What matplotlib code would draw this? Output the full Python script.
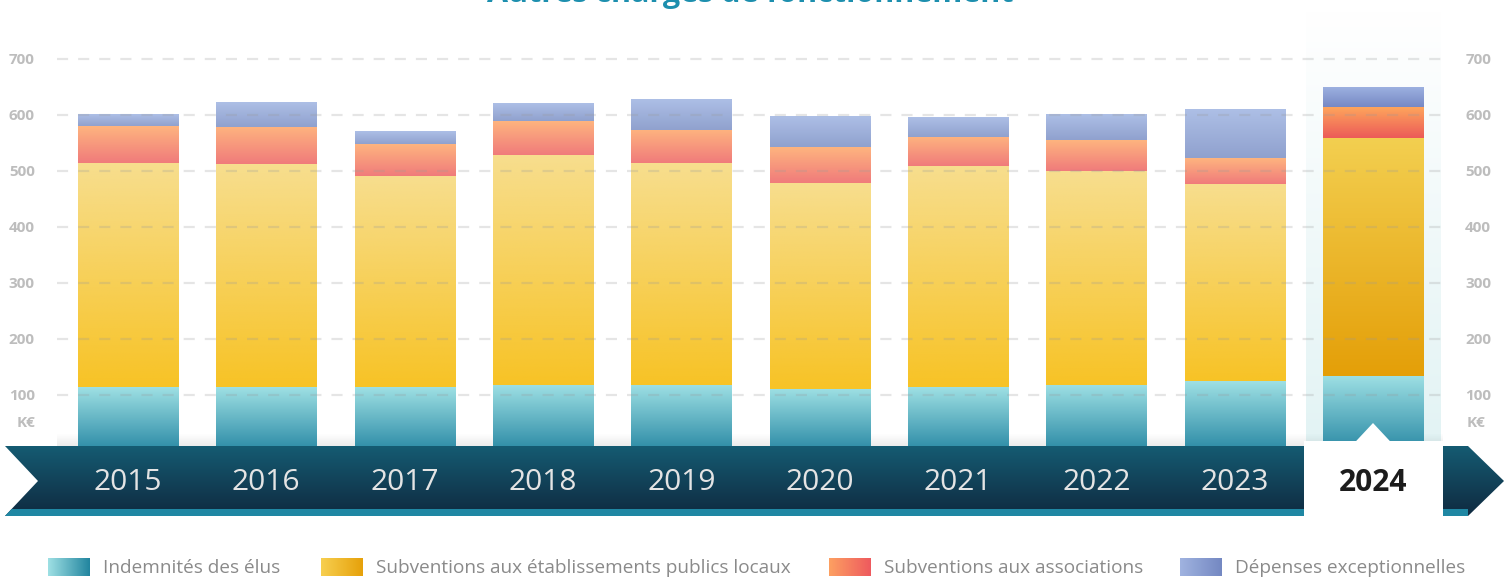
import numpy as np
import matplotlib
matplotlib.use("Agg")
import matplotlib.pyplot as plt
import matplotlib.transforms as mtransforms
from matplotlib.colors import to_rgba
from matplotlib.patches import Polygon, Rectangle

plt.rcParams['font.family'] = ['Open Sans', 'DejaVu Sans']

# data (K€)
years = ['2015', '2016', '2017', '2018', '2019', '2020', '2021', '2022', '2023', '2024']
indemnites = [114, 114, 114, 118, 118, 111, 114, 118, 125, 134]
subv_etab = [400, 398, 377, 411, 396, 368, 395, 382, 352, 425]
subv_assoc = [66, 67, 57, 60, 59, 64, 52, 55, 46, 55]
depenses_exc = [20, 44, 22, 32, 54, 55, 34, 45, 86, 34]
yticks = [100, 200, 300, 400, 500, 600, 700]

labels = ['Indemnités des élus', 'Subventions aux établissements publics locaux',
          'Subventions aux associations', 'Dépenses exceptionnelles']
# (top, bottom) gradient colours for normal years and for the highlighted year
grad_normal = [('#9ee0e4', '#2b8aa5'), ('#f7de8e', '#f7c326'),
               ('#feb47f', '#f07b7b'), ('#adbfe6', '#90a1ce')]
grad_hl = [('#9ee0e4', '#2b8aa5'), ('#f3cf50', '#e49f08'),
           ('#fea55c', '#ec5a58'), ('#9cb0e0', '#7789c4')]
legend_grad = [('#9ee0e4', '#22859f'), ('#f7cf50', '#e6a10a'),
               ('#fda062', '#ee5a5e'), ('#a0b3e0', '#7488c2')]


def vgrad(ax, x0, x1, y0, y1, c_top, c_bot, zorder=2, n=128):
    t = np.linspace(0, 1, n)[:, None]
    a = np.array(to_rgba(c_bot)); b = np.array(to_rgba(c_top))
    img = (a + (b - a) * t)[:, None, :]
    return ax.imshow(img, extent=(x0, x1, y0, y1), origin='lower', aspect='auto',
                     interpolation='bilinear', zorder=zorder)


def hgrad(ax, x0, x1, y0, y1, c_left, c_right, zorder=2, n=128):
    t = np.linspace(0, 1, n)[None, :]
    a = np.array(to_rgba(c_left)); b = np.array(to_rgba(c_right))
    img = (a + (b - a) * t[..., None])
    return ax.imshow(img, extent=(x0, x1, y0, y1), origin='upper', aspect='auto',
                     interpolation='bilinear', zorder=zorder)


W, H = 1510, 581
fig = plt.figure(figsize=(W / 100, H / 100), dpi=100)
ax = fig.add_axes([57 / W, (H - 451) / H, 1386 / W, 441 / H])
x = np.arange(len(years))
bw = 0.723
hl = len(years) - 1

# highlight column for last year
vgrad(ax, hl - 0.485, hl + 0.485, 0, 787.5, '#ffffff', '#e2f3f4', zorder=0.5)
# soft shadow above the banner
sh = np.zeros((64, 1, 4)); sh[:, 0, 3] = np.linspace(0.11, 0, 64)
ax.imshow(sh, extent=(-0.513, 9.506, 0, 32), origin='lower', aspect='auto', zorder=1)

series = [indemnites, subv_etab, subv_assoc, depenses_exc]
for i in range(len(years)):
    bottom = 0
    g = grad_hl if i == hl else grad_normal
    for k, s in enumerate(series):
        top = bottom + s[i]
        vgrad(ax, x[i] - bw / 2, x[i] + bw / 2, bottom, top, g[k][0], g[k][1], zorder=2)
        bottom = top

ax.set_xlim(-0.513, 9.506)
ax.set_ylim(0, 787.5)
ax.set_yticks(yticks)
ax.set_xticks([])
for sp in ax.spines.values():
    sp.set_visible(False)
ax.grid(axis='y', color='#9a9a9a', alpha=0.25, linewidth=1.6, linestyle=(0, (5, 4.5)), zorder=3)
ax.set_axisbelow(False)
ax.tick_params(axis='y', length=0, labelleft=True, labelright=True, labelsize=11,
               labelcolor='#bdbdbd', pad=16)
for lab in ax.get_yticklabels():
    lab.set_fontweight('bold')
ax.patch.set_alpha(0)

# overlay in pixel coordinates for banner / legend / title
ov = fig.add_axes([0, 0, 1, 1], zorder=5)
ov.set_xlim(0, W); ov.set_ylim(H, 0); ov.axis('off'); ov.patch.set_alpha(0)

trans_k_left = mtransforms.blended_transform_factory(ov.transData, ax.transData)
ov.text(35, 50, 'K€', transform=trans_k_left, ha='right', va='center',
        fontsize=11, color='#bdbdbd', fontweight='bold')
ov.text(1467, 50, 'K€', transform=trans_k_left, ha='left', va='center',
        fontsize=11, color='#bdbdbd', fontweight='bold')

banner = Polygon([(5, 446), (1468, 446), (1504, 481), (1468, 516), (5, 516), (38, 481)],
                 closed=True, facecolor='none', edgecolor='none')
ov.add_patch(banner)
t = np.linspace(0, 1, 128)[:, None]
c0 = np.array(to_rgba('#155b72')); c1 = np.array(to_rgba('#0f2a40'))
bimg = (c0 + (c1 - c0) * t)[:, None, :]
im = ov.imshow(bimg, extent=(5, 1504, 516, 446), origin='upper', aspect='auto', zorder=1)
im.set_clip_path(banner)
strip = Rectangle((5, 509), 1463, 7, facecolor='#1f87a3', edgecolor='none', zorder=2)
ov.add_patch(strip)
strip.set_clip_path(banner)

trans_year = mtransforms.blended_transform_factory(ax.transData, ov.transData)
ov.add_patch(Rectangle((hl - 0.5, 441), 1.006, 77, transform=trans_year,
                       facecolor='white', edgecolor='none', zorder=3))
ov.add_patch(Polygon([(hl - 0.125, 441.5), (hl, 423), (hl + 0.125, 441.5)], closed=True,
                     transform=trans_year, facecolor='white', edgecolor='none', zorder=3))

for i, yr in enumerate(years):
    if i == hl:
        ov.text(x[i], 483, yr, transform=trans_year, ha='center', va='center',
                fontsize=21.5, fontweight='bold', color='#1c1c1c', zorder=4)
    else:
        ov.text(x[i], 483, yr, transform=trans_year, ha='center', va='center',
                fontsize=21.5, color='#e4e4e4', zorder=4)

# legend
leg_x = [48, 321, 829, 1180]
for k in range(4):
    x0 = leg_x[k]
    hgrad(ov, x0, x0 + 42, 576, 558, legend_grad[k][0], legend_grad[k][1], zorder=2)
    ov.text(x0 + 55, 568, labels[k], ha='left', va='center', fontsize=13.7, color='#8a8a8a')

# title (cut off at the top, as in the original)
ov.text(750, 2, 'Autres charges de fonctionnement', ha='center', va='baseline',
        fontsize=22, fontweight='bold', color='#1d8fae')

fig.savefig('out.png', dpi=100)
